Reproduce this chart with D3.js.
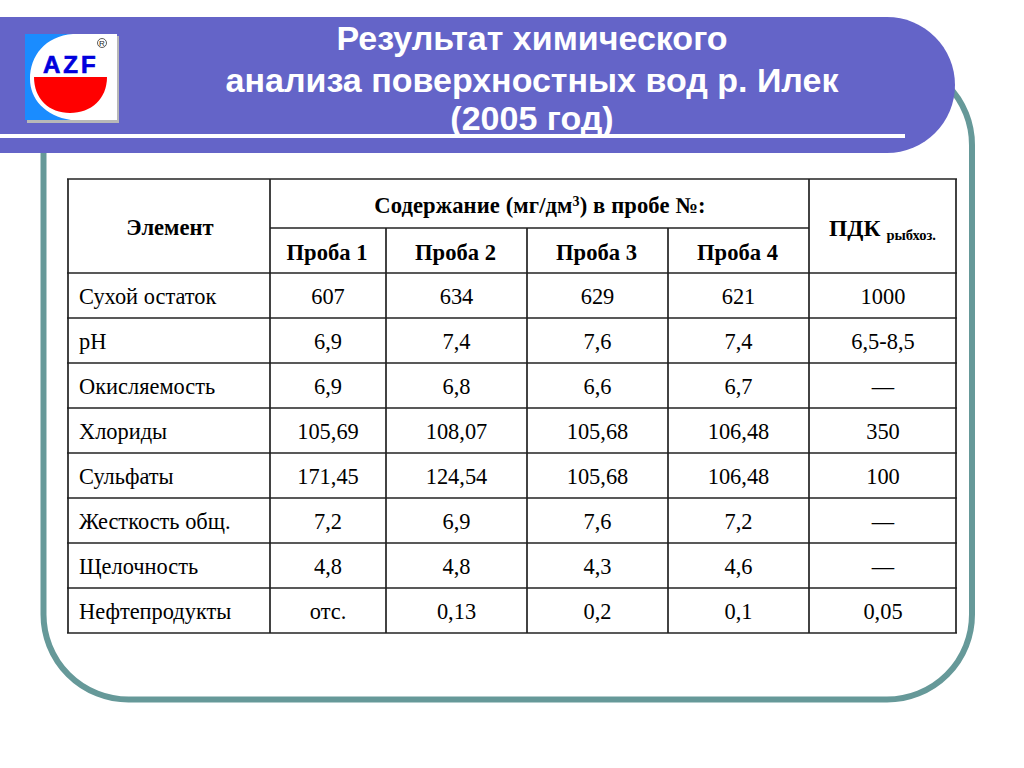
<!DOCTYPE html>
<html>
<head>
<meta charset="utf-8">
<script src="https://d3js.org/d3.v7.min.js"></script>
<style>
  html, body { margin: 0; padding: 0; background: #fff; overflow: hidden; }
  svg { display: block; }
  .cell { font-family: "Liberation Serif", serif; font-size: 22.4px; fill: #000; }
  .head { font-weight: bold; font-size: 22.6px; }
  .title { font-family: "Liberation Sans", sans-serif; font-weight: bold; font-size: 34px; fill: #fff; text-anchor: middle; }
</style>
</head>
<body>
<div id="chart"></div>
<script>
const titleLines = ['Результат химического', 'анализа поверхностных вод р. Илек', '(2005 год)'];

const elements = ['Сухой остаток', 'pH', 'Окисляемость', 'Хлориды', 'Сульфаты', 'Жесткость общ.', 'Щелочность', 'Нефтепродукты'];
const samples = ['Проба 1', 'Проба 2', 'Проба 3', 'Проба 4'];

const proba1 = ['607', '6,9', '6,9', '105,69', '171,45', '7,2', '4,8', 'отс.'];
const proba2 = ['634', '7,4', '6,8', '108,07', '124,54', '6,9', '4,8', '0,13'];
const proba3 = ['629', '7,6', '6,6', '105,68', '105,68', '7,6', '4,3', '0,2'];
const proba4 = ['621', '7,4', '6,7', '106,48', '106,48', '7,2', '4,6', '0,1'];
const pdk = ['1000', '6,5-8,5', '—', '350', '100', '—', '—', '0,05'];

const width = 1024, height = 768;
const svg = d3.select('#chart').append('svg').attr('width', width).attr('height', height);

// frame behind the banner
svg.append('rect')
  .attr('x', 43.5).attr('y', 60).attr('width', 928.5).attr('height', 639.5)
  .attr('rx', 85).attr('ry', 85)
  .attr('fill', 'none').attr('stroke', '#669999').attr('stroke-width', 6);

// banner, square on the left and round on the right
const banner = d3.path();
banner.moveTo(0, 17);
banner.lineTo(887, 17);
banner.arc(887, 85, 68, -Math.PI / 2, Math.PI / 2);
banner.lineTo(0, 153);
banner.closePath();
svg.append('path').attr('d', banner.toString()).attr('fill', '#6464c8');
svg.append('rect').attr('x', 0).attr('y', 134).attr('width', 905).attr('height', 4).attr('fill', '#fff');

svg.selectAll('.title').data(titleLines).enter().append('text')
  .attr('class', 'title')
  .attr('x', 532)
  .attr('y', (d, i) => [50, 92, 130][i])
  .text((d) => d);

// logo
const logo = svg.append('g').attr('transform', 'translate(25,34)');
logo.append('rect').attr('x', 2).attr('y', 2).attr('width', 92).attr('height', 87).attr('fill', '#b8b8b8');
logo.append('rect').attr('width', 92).attr('height', 86).attr('fill', '#fff');
logo.append('path')
  .attr('d', 'M0,0H48C20,2 5,22 5,45C5,65 20,82 46,86H0Z')
  .attr('fill', '#1a8cff');
logo.append('path')
  .attr('d', 'M9,43H82C82,65 66,79 45,79C24,79 9,65 9,43Z')
  .attr('fill', '#ff0000');
logo.append('text')
  .attr('x', 18).attr('y', 39)
  .attr('font-family', '"Liberation Sans", sans-serif')
  .attr('font-weight', 'bold').attr('font-size', 24).attr('letter-spacing', 3)
  .attr('fill', '#0000dd').attr('stroke', '#0000dd').attr('stroke-width', 0.7)
  .text('AZF');
logo.append('circle').attr('cx', 77).attr('cy', 9).attr('r', 4.5).attr('fill', 'none').attr('stroke', '#333').attr('stroke-width', 0.8);
logo.append('text')
  .attr('x', 77).attr('y', 12).attr('text-anchor', 'middle')
  .attr('font-family', '"Liberation Sans", sans-serif').attr('font-size', 8).attr('fill', '#222')
  .text('R');

// table scales
const rowY = d3.scaleBand().domain(elements).range([273, 633]);
const sampleX = d3.scaleOrdinal().domain(samples).range([270, 386, 527, 668]);
const sampleW = d3.scaleOrdinal().domain(samples).range([116, 141, 141, 141]);
const tableLeft = 68, nameW = 202, pdkX = 809, pdkW = 147, tableTop = 179, midY = 228;

const columns = [proba1, proba2, proba3, proba4];
const grid = svg.append('g').attr('stroke', '#222').attr('stroke-width', 1.7).attr('fill', 'none');

const hLine = (x1, x2, y) => grid.append('line').attr('x1', x1).attr('x2', x2).attr('y1', y).attr('y2', y);
const vLine = (x, y1, y2) => grid.append('line').attr('x1', x).attr('x2', x).attr('y1', y1).attr('y2', y2);

hLine(tableLeft - 1, pdkX + pdkW + 1, tableTop);
hLine(sampleX(samples[0]), pdkX, midY);
hLine(tableLeft - 1, pdkX + pdkW + 1, 273);
elements.forEach((d) => hLine(tableLeft - 1, pdkX + pdkW + 1, rowY(d) + rowY.bandwidth()));

vLine(tableLeft, tableTop, 633);
vLine(sampleX(samples[0]), tableTop, 633);
samples.slice(1).forEach((d) => vLine(sampleX(d), midY, 633));
vLine(pdkX, tableTop, 633);
vLine(pdkX + pdkW, tableTop, 633);

const cells = svg.append('g');
const baseline = (d) => rowY(d) + rowY.bandwidth() / 2 + 8;

// header
cells.append('text').attr('class', 'cell head')
  .attr('x', tableLeft + nameW / 2 + 1).attr('y', 235).attr('text-anchor', 'middle').text('Элемент');

const headMain = cells.append('text').attr('class', 'cell head')
  .attr('x', 540).attr('y', 213).attr('text-anchor', 'middle').attr('letter-spacing', 0.1);
headMain.append('tspan').text('Содержание (мг/дм');
headMain.append('tspan').attr('font-size', 14).attr('dy', -7).text('3');
headMain.append('tspan').attr('dy', 7).text(') в пробе №:');

const headPdk = cells.append('text').attr('class', 'cell head')
  .attr('x', pdkX + pdkW / 2).attr('y', 236).attr('text-anchor', 'middle');
headPdk.append('tspan').attr('font-size', 23.5).text('ПДК ');
headPdk.append('tspan').attr('font-size', 14.5).attr('dy', 4).text('рыбхоз.');

cells.selectAll('.sample').data(samples).enter().append('text')
  .attr('class', 'cell head sample')
  .attr('x', (d) => sampleX(d) + sampleW(d) / 2 - 1)
  .attr('y', 260)
  .attr('text-anchor', 'middle')
  .text((d) => d);

// body
cells.selectAll('.name').data(elements).enter().append('text')
  .attr('class', 'cell name')
  .attr('x', tableLeft + 11)
  .attr('y', baseline)
  .text((d) => d);

columns.forEach((col, c) => {
  cells.selectAll('.col' + c).data(col).enter().append('text')
    .attr('class', 'cell col' + c)
    .attr('x', sampleX(samples[c]) + sampleW(samples[c]) / 2)
    .attr('y', (d, i) => baseline(elements[i]))
    .attr('text-anchor', 'middle')
    .text((d) => d);
});

cells.selectAll('.pdk').data(pdk).enter().append('text')
  .attr('class', 'cell pdk')
  .attr('x', pdkX + pdkW / 2 + 0.5)
  .attr('y', (d, i) => baseline(elements[i]))
  .attr('text-anchor', 'middle')
  .text((d) => d);
</script>
</body>
</html>
